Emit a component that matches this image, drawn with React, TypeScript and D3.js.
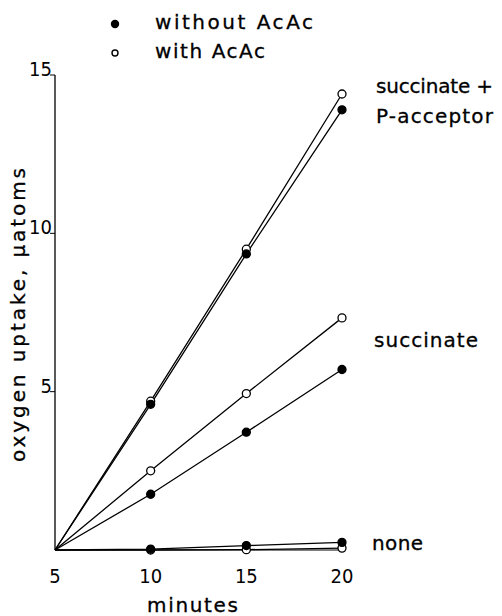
import React, { useEffect, useRef } from 'react'
import * as d3 from 'd3'

// minutes at which uptake was measured
const minutes = [5, 10, 15, 20]

// oxygen uptake, µatoms
const succPWithout = [0, 4.6, 9.35, 13.9]
const succPWith = [0, 4.7, 9.5, 14.4]
const succWithout = [0, 1.76, 3.72, 5.7]
const succWith = [0, 2.5, 4.94, 7.33]
const noneWithout = [0, 0.03, 0.14, 0.24]
const noneWith = [0, 0.0, 0.01, 0.06]

const xTicks = [5, 10, 15, 20]
const yTicks = [5, 10, 15]

const series = [
  { name: 'succPWith', values: succPWith, filled: false },
  { name: 'succPWithout', values: succPWithout, filled: true },
  { name: 'succWith', values: succWith, filled: false },
  { name: 'succWithout', values: succWithout, filled: true },
  { name: 'noneWith', values: noneWith, filled: false },
  { name: 'noneWithout', values: noneWithout, filled: true },
]

const curveLabels = [
  { lines: ['succinate +', 'P-acceptor'], widths: [117, 117], y: 14.43, x: 376 },
  { lines: ['succinate'], widths: [104], y: 6.41, x: 374 },
  { lines: ['none'], widths: [51], y: 0, x: 372 },
]

const App = () => {
  const node = useRef<SVGSVGElement>(null)

  useEffect(() => {
    const width = 502, height = 616
    const svg = d3.select(node.current)
    svg.selectAll('*').remove()
    svg.attr('width', width).attr('height', height)

    const x = d3.scaleLinear([5, 20], [55, 342])
    const y = d3.scaleLinear([0, 15], [550, 75])
    const txt = 'DejaVu Sans, sans-serif'
    const num = 'Liberation Sans Narrow, DejaVu Sans Condensed, sans-serif'

    // writes a label stretched to the width it has in the figure
    const label = (g: any, t: string, w: number) =>
      g.append('text')
        .attr('font-family', txt).attr('font-size', 20)
        .attr('stroke', '#000').attr('stroke-width', 0.3)
        .attr('textLength', w).attr('lengthAdjust', 'spacing')
        .text(t)

    // axes
    svg.append('line')
      .attr('x1', x(5)).attr('x2', x(5)).attr('y1', y(0)).attr('y2', y(15))
      .attr('stroke', '#000').attr('stroke-width', 1.3)
    svg.append('line')
      .attr('x1', x(5)).attr('x2', x(20)).attr('y1', y(0)).attr('y2', y(0))
      .attr('stroke', '#000').attr('stroke-width', 1)

    const yt = svg.append('g')
    yTicks.forEach(t => {
      yt.append('line')
        .attr('x1', x(5) - 5).attr('x2', x(5)).attr('y1', y(t)).attr('y2', y(t))
        .attr('stroke', '#000').attr('stroke-width', 1)
      yt.append('text')
        .attr('x', x(5) - 3).attr('y', y(t) + 1)
        .attr('text-anchor', 'end')
        .attr('font-family', num).attr('font-size', 20)
        .text(t)
    })

    svg.append('g').selectAll('text').data(xTicks).join('text')
      .attr('x', d => x(d)).attr('y', 583)
      .attr('text-anchor', 'middle')
      .attr('font-family', num).attr('font-size', 20)
      .text(d => d)

    label(svg, 'minutes', 91).attr('x', 147).attr('y', 612)

    label(svg, 'oxygen  uptake,  \u03bcatoms', 294)
      .attr('transform', 'translate(25,462) rotate(-90)')

    // lines and points
    const line = d3.line<number>()
      .x((d, i) => x(minutes[i]))
      .y(d => y(d))

    const g = svg.append('g')
    series.forEach(s => {
      g.append('path')
        .attr('d', line(s.values))
        .attr('fill', 'none')
        .attr('stroke', '#000')
        .attr('stroke-width', 1.3)
    })
    series.forEach(s => {
      g.selectAll(null)
        .data(s.values.slice(1))
        .join('circle')
        .attr('cx', (d, i) => x(minutes[i + 1]))
        .attr('cy', d => y(d))
        .attr('r', 4)
        .attr('fill', s.filled ? '#000' : '#fff')
        .attr('stroke', '#000')
        .attr('stroke-width', 1.3)
    })

    // curve labels
    curveLabels.forEach(l => {
      l.lines.forEach((t, k) => {
        label(svg, t, l.widths[k]).attr('x', l.x).attr('y', y(l.y) + k * 30)
      })
    })

    // legend
    const legend = [
      { label: 'without AcAc', filled: true, w: 158 },
      { label: 'with AcAc', filled: false, w: 110 },
    ]
    legend.forEach((d, i) => {
      svg.append('circle')
        .attr('cx', 115).attr('cy', 24 + i * 29)
        .attr('r', d.filled ? 3.5 : 3)
        .attr('fill', d.filled ? '#000' : '#fff')
        .attr('stroke', '#000').attr('stroke-width', 1.4)
      label(svg, d.label, d.w).attr('x', 155).attr('y', 29 + i * 29)
    })
  }, [])

  return <svg ref={node} style={{ display: 'block', position: 'absolute', left: 0, top: 0 }} />
}

export default App
